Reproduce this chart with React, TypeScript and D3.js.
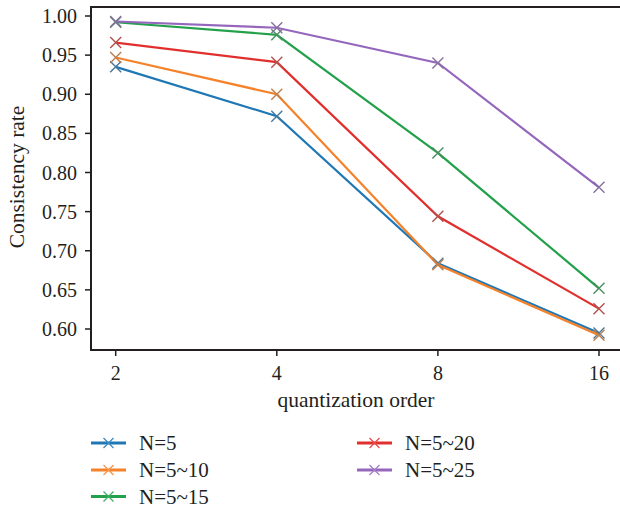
import React, { useEffect, useRef } from 'react';
import * as d3 from 'd3';

const orders = [2, 4, 8, 16];
const seriesNames = ['N=5', 'N=5~10', 'N=5~15', 'N=5~20', 'N=5~25'];
const n5 = [0.935, 0.872, 0.684, 0.595];
const n5to10 = [0.947, 0.9, 0.682, 0.592];
const n5to15 = [0.992, 0.976, 0.825, 0.652];
const n5to20 = [0.966, 0.941, 0.744, 0.626];
const n5to25 = [0.993, 0.985, 0.94, 0.781];
const yTicks = [0.6, 0.65, 0.7, 0.75, 0.8, 0.85, 0.9, 0.95, 1.0];
const colors = ['#1f77b4', '#f5822a', '#22a04a', '#e0302e', '#9467bd'];

const App = () => {
  const ref = useRef(null);
  const width = 620;
  const height = 508;

  useEffect(() => {
    const svg = d3.select(ref.current);
    svg.selectAll('*').remove();

    const font = '"Liberation Serif", "Times New Roman", serif';
    const ink = '#231f20';
    const left = 91, top = 7, right = 620, bottom = 350;

    const x = d3.scaleLog().base(2).domain([2, 16]).range([115.7, 599]);
    const y = d3.scaleLinear().domain([0.6, 1.0]).range([329, 16]);

    const allSeries = [n5, n5to10, n5to15, n5to20, n5to25];

    // frame
    svg.append('path')
      .attr('d', `M${right},${top}H${left}V${bottom}H${right}`)
      .attr('fill', 'none')
      .attr('stroke', ink)
      .attr('stroke-width', 2);

    // y ticks
    const yg = svg.append('g');
    yTicks.forEach((t) => {
      yg.append('line')
        .attr('x1', left - 6).attr('x2', left)
        .attr('y1', y(t)).attr('y2', y(t))
        .attr('stroke', ink).attr('stroke-width', 1.5);
      yg.append('text')
        .attr('x', 77).attr('y', y(t))
        .attr('dy', '0.35em')
        .attr('text-anchor', 'end')
        .attr('font-family', font).attr('font-size', 20)
        .attr('fill', ink)
        .text(d3.format('.2f')(t));
    });

    // x ticks
    const xg = svg.append('g');
    orders.forEach((o) => {
      xg.append('line')
        .attr('x1', x(o)).attr('x2', x(o))
        .attr('y1', bottom).attr('y2', bottom + 6)
        .attr('stroke', ink).attr('stroke-width', 1.5);
      xg.append('text')
        .attr('x', x(o)).attr('y', 380)
        .attr('text-anchor', 'middle')
        .attr('font-family', font).attr('font-size', 20)
        .attr('fill', ink)
        .text(o);
    });

    svg.append('text')
      .attr('x', 356).attr('y', 407)
      .attr('text-anchor', 'middle')
      .attr('font-family', font).attr('font-size', 21.5)
      .attr('fill', ink)
      .text('quantization order');

    svg.append('text')
      .attr('transform', 'translate(24,177) rotate(-90)')
      .attr('text-anchor', 'middle')
      .attr('font-family', font).attr('font-size', 21.5)
      .attr('fill', ink)
      .text('Consistency rate');

    const line = d3.line().x((d) => x(d[0])).y((d) => y(d[1]));

    const cross = (g, cx, cy, color, s, w) => {
      g.append('path')
        .attr('d', `M${cx - s},${cy - s}L${cx + s},${cy + s}M${cx - s},${cy + s}L${cx + s},${cy - s}`)
        .attr('stroke', color)
        .attr('stroke-width', w)
        .attr('fill', 'none');
    };

    allSeries.forEach((vals, i) => {
      const pts = orders.map((o, j) => [o, vals[j]]);
      const g = svg.append('g');
      g.append('path')
        .datum(pts)
        .attr('d', line)
        .attr('fill', 'none')
        .attr('stroke', colors[i])
        .attr('stroke-width', 2.2);
      pts.forEach((p) => {
        const mixed = d3.interpolateRgb(colors[i], '#7a7a7a')(0.45);
        cross(g, x(p[0]), y(p[1]), mixed, 5.5, 1.4);
      });
    });

    // legend
    const legendRows = [443, 470, 496.5];
    seriesNames.forEach((name, i) => {
      const col = i < 3 ? 0 : 1;
      const row = i < 3 ? i : i - 3;
      const lx = col === 0 ? 91 : 357;
      const ly = legendRows[row];
      const g = svg.append('g');
      g.append('line')
        .attr('x1', lx).attr('x2', lx + 35)
        .attr('y1', ly).attr('y2', ly)
        .attr('stroke', colors[i]).attr('stroke-width', 3.2);
      const light = d3.interpolateRgb(colors[i], '#ffffff')(0.15);
      cross(g, lx + 17.5, ly, light, 5, 1.3);
      g.append('text')
        .attr('x', lx + 48).attr('y', ly)
        .attr('dy', '0.35em')
        .attr('font-family', font).attr('font-size', 21)
        .attr('fill', ink)
        .text(name);
    });
  }, []);

  return (
    <svg
      ref={ref}
      width={width}
      height={height}
      style={{ position: 'absolute', left: 0, top: 0, background: '#fff' }}
    />
  );
};

export default App;
